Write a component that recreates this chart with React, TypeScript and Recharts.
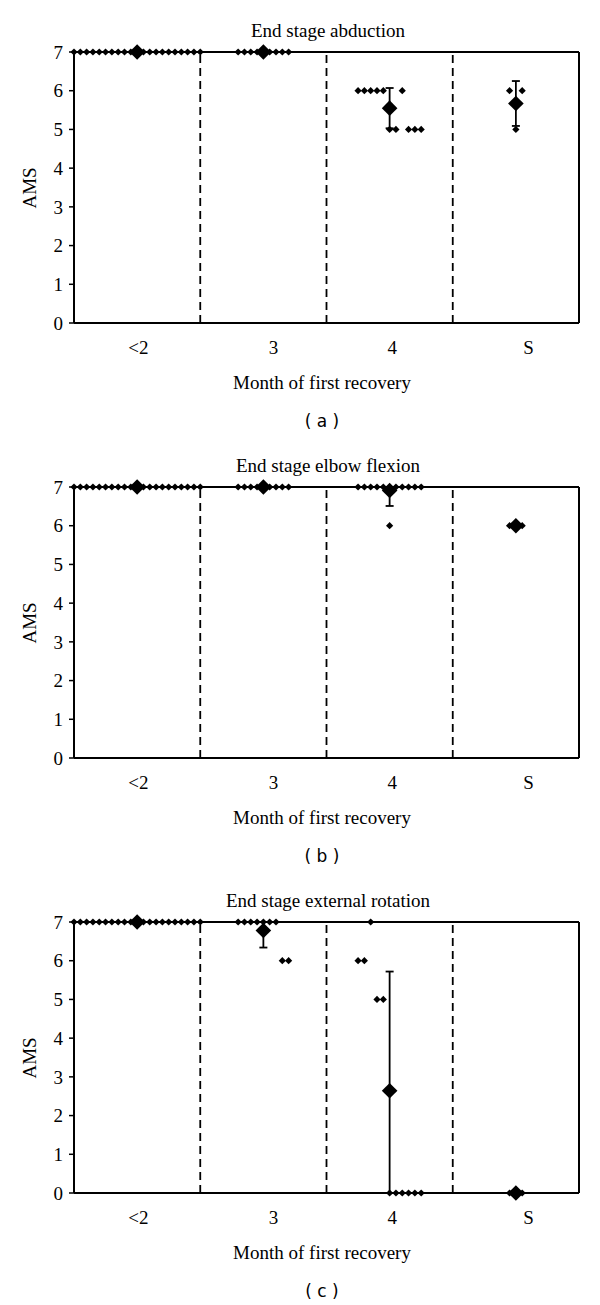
import React from 'react';
import { ScatterChart, Scatter, XAxis, YAxis, ReferenceLine, ErrorBar } from 'recharts';

// Categories (month of first recovery) and tick labels
const groups = ['<2', '3', '4', 'S'];
const groupTickPositions = [0.51, 1.58, 2.52, 3.6];
const yTicks = [0, 1, 2, 3, 4, 5, 6, 7];

// (a) End stage abduction — individual AMS values per group
const abductionLt2 = [7, 7, 7, 7, 7, 7, 7, 7, 7, 7, 7, 7, 7, 7, 7, 7, 7, 7, 7, 7, 7];
const abductionM3 = [7, 7, 7, 7, 7, 7, 7, 7, 7];
const abductionM4 = [6, 6, 6, 6, 6, 5, 5, 6, 5, 5, 5];
const abductionS = [6, 5, 6];
const abductionMeans = [7, 7, 5.55, 5.67];
const abductionErrs = [0, 0, 0.52, 0.58];

// (b) End stage elbow flexion
const elbowLt2 = [7, 7, 7, 7, 7, 7, 7, 7, 7, 7, 7, 7, 7, 7, 7, 7, 7, 7, 7, 7, 7];
const elbowM3 = [7, 7, 7, 7, 7, 7, 7, 7, 7];
const elbowM4 = [7, 7, 7, 7, 7, 6, 7, 7, 7, 7, 7];
const elbowS = [6, 6, 6];
const elbowMeans = [7, 7, 6.91, 6];
const elbowErrs = [0, 0, 0.4, 0];

// (c) End stage external rotation
const rotationLt2 = [7, 7, 7, 7, 7, 7, 7, 7, 7, 7, 7, 7, 7, 7, 7, 7, 7, 7, 7, 7, 7];
const rotationM3 = [7, 7, 7, 7, 7, 7, 7, 6, 6];
const rotationM4 = [6, 6, 7, 5, 5, 0, 0, 0, 0, 0, 0];
const rotationS = [0, 0, 0];
const rotationMeans = [7, 6.78, 2.64, 0];
const rotationErrs = [0, 0.44, 3.08, 0];

const STEP = 0.05;
const Y_MAX = 7;
const FONT = '"Liberation Serif", "Times New Roman", serif';

function buildDots(groupValues: number[][]) {
  return groupValues.flatMap((vals, g) =>
    vals.map((v, i) => ({ x: g + 0.5 + (i - (vals.length - 1) / 2) * STEP, y: v }))
  );
}

function buildMeans(means: number[], errs: number[]) {
  return means.map((m, g) => ({
    x: g + 0.5,
    y: m,
    err: [Math.min(errs[g], m), Math.min(errs[g], Y_MAX - m)],
  }));
}

const SmallDiamond = (p: any) => {
  const { cx, cy } = p;
  const r = 3.6;
  return <path d={`M${cx},${cy - r} L${cx + r},${cy} L${cx},${cy + r} L${cx - r},${cy} Z`} fill="#000" />;
};

const BigDiamond = (p: any) => {
  const { cx, cy } = p;
  const r = 7.8;
  return <path d={`M${cx},${cy - r} L${cx + r},${cy} L${cx},${cy + r} L${cx - r},${cy} Z`} fill="#000" />;
};

type PanelProps = {
  title: string;
  letter: string;
  values: number[][];
  means: number[];
  errs: number[];
};

const Panel = ({ title, letter, values, means, errs }: PanelProps) => {
  const dots = buildDots(values);
  const meanData = buildMeans(means, errs);
  return (
    <div style={{ position: 'relative', width: 600, height: 435 }}>
      <ScatterChart width={600} height={435} margin={{ top: 52, right: 21, bottom: 82, left: 24 }}>
        <XAxis
          type="number"
          dataKey="x"
          domain={[0, 4]}
          ticks={groupTickPositions}
          interval={0}
          tickFormatter={(v: number, i: number) => groups[i]}
          tickLine={false}
          tickSize={0}
          tickMargin={18}
          height={30}
          axisLine={{ stroke: '#000', strokeWidth: 2 }}
          tick={{ fill: '#000', fontFamily: FONT, fontSize: 19 }}
        />
        <YAxis
          type="number"
          dataKey="y"
          domain={[0, 7]}
          ticks={yTicks}
          interval={0}
          width={50}
          tickSize={5}
          tickMargin={6}
          tickLine={{ stroke: '#000', strokeWidth: 1.5 }}
          axisLine={{ stroke: '#000', strokeWidth: 2 }}
          tick={{ fill: '#000', fontFamily: FONT, fontSize: 19 }}
        />
        <ReferenceLine y={7} stroke="#000" strokeWidth={2} />
        <ReferenceLine x={4} stroke="#000" strokeWidth={2} />
        <ReferenceLine x={1} stroke="#000" strokeWidth={1.8} strokeDasharray="8 5" />
        <ReferenceLine x={2} stroke="#000" strokeWidth={1.8} strokeDasharray="8 5" />
        <ReferenceLine x={3} stroke="#000" strokeWidth={1.8} strokeDasharray="8 5" />
        <Scatter data={dots} shape={SmallDiamond} isAnimationActive={false} />
        <Scatter data={meanData} shape={BigDiamond} isAnimationActive={false}>
          <ErrorBar dataKey="err" direction="y" width={4} stroke="#000" strokeWidth={1.8} />
        </Scatter>
      </ScatterChart>
      <svg width={600} height={435} style={{ position: 'absolute', left: 0, top: 0, pointerEvents: 'none' }}>
        <text x={328} y={37} textAnchor="middle" fontFamily={FONT} fontSize={19} fill="#000">{title}</text>
        <text x={322} y={389} textAnchor="middle" fontFamily={FONT} fontSize={19} fill="#000">Month of first recovery</text>
        <text x={322} y={427} textAnchor="middle" fontFamily='"DejaVu Sans", sans-serif' fontSize={17} fill="#000">{`( ${letter} )`}</text>
        <text x={32} y={188} textAnchor="middle" fontFamily={FONT} fontSize={19} fill="#000" transform="rotate(-90 32 188)" dominantBaseline="middle">AMS</text>
      </svg>
    </div>
  );
};

export default function App() {
  return (
    <div style={{ position: 'absolute', left: 0, top: 0, width: 600, height: 1305, background: '#fff' }}>
      <Panel
        title="End stage abduction"
        letter="a"
        values={[abductionLt2, abductionM3, abductionM4, abductionS]}
        means={abductionMeans}
        errs={abductionErrs}
      />
      <Panel
        title="End stage elbow flexion"
        letter="b"
        values={[elbowLt2, elbowM3, elbowM4, elbowS]}
        means={elbowMeans}
        errs={elbowErrs}
      />
      <Panel
        title="End stage external rotation"
        letter="c"
        values={[rotationLt2, rotationM3, rotationM4, rotationS]}
        means={rotationMeans}
        errs={rotationErrs}
      />
    </div>
  );
}
